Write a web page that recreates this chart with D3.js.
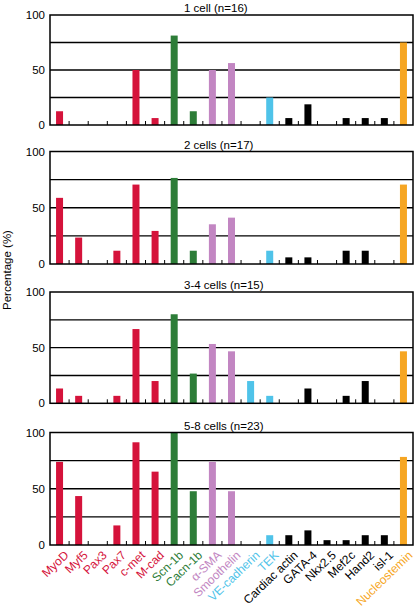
<!DOCTYPE html>
<html>
<head>
<meta charset="utf-8">
<script src="https://cdn.jsdelivr.net/npm/d3@7"></script>
<style>
  html, body { margin: 0; padding: 0; background: #fff; }
  svg { display: block; font-family: "Liberation Sans", Arial, Helvetica, sans-serif; }
</style>
</head>
<body>
<svg id="chart" width="415" height="608"></svg>
<script>
const categories = ["MyoD","Myf5","Pax3","Pax7","c-met","M-cad","Scn-1b","Cacn-1b","α-SMA","Smoothelin","VE-cadherin","TEK","Cardiac actin","GATA-4","Nkx2.5","Mef2c","Hand2","isl-1","Nucleostemin"];
const groups = ["red","red","red","red","red","red","green","green","lilac","lilac","cyan","cyan","black","black","black","black","black","black","orange"];
const panelTitles = ["1 cell (n=16)", "2 cells (n=17)", "3-4 cells (n=15)", "5-8 cells (n=23)"];
const oneCell   = [12.5, 0, 0, 0, 50, 6.3, 81.3, 12.5, 50, 56.3, 0, 25, 6.3, 18.8, 0, 6.3, 6.3, 6.3, 75];
const twoCells  = [58.8, 23.5, 0, 11.8, 70.6, 29.4, 76.5, 11.8, 35.3, 41.2, 0, 11.8, 5.9, 5.9, 0, 11.8, 11.8, 0, 70.6];
const threeFour = [13.3, 6.7, 0, 6.7, 66.7, 20, 80, 26.7, 53.3, 46.7, 20, 6.7, 0, 13.3, 0, 6.7, 20, 0, 46.7];
const fiveEight = [73.9, 43.5, 0, 17.4, 91.3, 65.2, 100, 47.8, 73.9, 47.8, 0, 8.7, 8.7, 13.0, 4.3, 4.3, 8.7, 8.7, 78.3];
const seriesList = [oneCell, twoCells, threeFour, fiveEight];
const yTicks = [0, 50, 100];
const gridValues = [25, 50, 75];
const yLabel = "Percentage (%)";

const colorMap = { red: "#d5133b", green: "#2d7d38", lilac: "#c286c2", cyan: "#4fc3e9", black: "#000000", orange: "#f6a623" };

const svg = d3.select("#chart");
const left = 50, right = 413;
const tops = [15, 151.5, 292, 432.5];
const bottoms = [125, 264, 403.3, 545];
const titleX = 184;

const x = d3.scaleBand().domain(categories).range([left, right]).paddingInner(0).paddingOuter(0);
const barW = 7;

seriesList.forEach((vals, p) => {
  const y = d3.scaleLinear().domain([0, 100]).range([bottoms[p], tops[p]]);
  const g = svg.append("g");

  g.selectAll("line.grid").data(gridValues).join("line")
    .attr("x1", left).attr("x2", right)
    .attr("y1", d => y(d)).attr("y2", d => y(d))
    .attr("stroke", "#000").attr("stroke-width", 1.3);

  g.selectAll("rect.bar").data(categories.map((c, i) => ({ c, v: vals[i], grp: groups[i] }))).join("rect")
    .attr("x", d => x(d.c) + x.bandwidth() / 2 - barW / 2)
    .attr("width", barW)
    .attr("y", d => y(d.v))
    .attr("height", d => y(0) - y(d.v))
    .attr("fill", d => colorMap[d.grp]);

  g.selectAll("line.tk").data(categories.slice(1)).join("line")
    .attr("x1", d => x(d)).attr("x2", d => x(d))
    .attr("y1", y(0)).attr("y2", y(0) - 4)
    .attr("stroke", "#000").attr("stroke-width", 1);

  g.append("rect")
    .attr("x", left).attr("y", tops[p])
    .attr("width", right - left).attr("height", bottoms[p] - tops[p])
    .attr("fill", "none").attr("stroke", "#000").attr("stroke-width", 1.5);

  const ax = d3.axisLeft(y).tickValues(yTicks).tickSize(0).tickPadding(5).tickFormat(d3.format("d"));
  const axG = g.append("g").attr("transform", `translate(${left},0)`).call(ax);
  axG.select(".domain").remove();
  axG.selectAll("text").attr("font-size", 11.5).attr("fill", "#000")
    .attr("font-family", "Liberation Sans, Arial, sans-serif");

  g.append("text").attr("x", titleX).attr("y", tops[p] - 3)
    .attr("font-size", 11.5).attr("fill", "#000").text(panelTitles[p]);
});

const lastY = bottoms[bottoms.length - 1];
svg.append("g").selectAll("text").data(categories).join("text")
  .attr("transform", d => `translate(${x(d) + x.bandwidth() / 2 + 4},${lastY + 5}) rotate(-44)`)
  .attr("text-anchor", "end")
  .attr("dy", "0.7em")
  .attr("font-size", 12)
  .attr("fill", (d, i) => colorMap[groups[i]])
  .text(d => d);

svg.append("text")
  .attr("transform", `translate(11,270) rotate(-90)`)
  .attr("text-anchor", "middle")
  .attr("font-size", 11.5)
  .attr("fill", "#000")
  .text(yLabel);
</script>
</body>
</html>
